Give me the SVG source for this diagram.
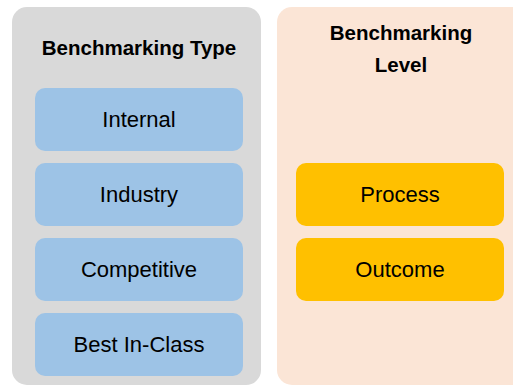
<svg xmlns="http://www.w3.org/2000/svg" width="513" height="387" viewBox="0 0 513 387">
  <style>
    .panel-type { fill: #D9D9D9; }
    .panel-level { fill: #FBE5D6; }
    .type-box { fill: #9DC3E6; }
    .level-box { fill: #FFC000; }
    .title { font-family: "Liberation Sans", Arial, sans-serif; font-size: 20.5px; font-weight: bold; fill: #000; text-anchor: middle; }
    .label { font-family: "Liberation Sans", Arial, sans-serif; font-size: 22px; fill: #000; text-anchor: middle; }
  </style>
  <rect width="513" height="387" fill="#FFFFFF"/>

  <!-- Benchmarking type column -->
  <g id="panel-type">
    <rect class="panel-type" x="12" y="7" width="249" height="378" rx="15"/>
    <text class="title" x="139" y="55">Benchmarking Type</text>
  </g>
  <g id="type-internal">
    <rect class="type-box" x="35" y="88" width="208" height="63" rx="10"/>
    <text class="label" x="139" y="127">Internal</text>
  </g>
  <g id="type-industry">
    <rect class="type-box" x="35" y="163" width="208" height="63" rx="10"/>
    <text class="label" x="139" y="202">Industry</text>
  </g>
  <g id="type-competitive">
    <rect class="type-box" x="35" y="238" width="208" height="63" rx="10"/>
    <text class="label" x="139" y="277">Competitive</text>
  </g>
  <g id="type-best-in-class">
    <rect class="type-box" x="35" y="313" width="208" height="63" rx="10"/>
    <text class="label" x="139" y="352">Best In-Class</text>
  </g>

  <!-- Benchmarking level column -->
  <g id="panel-level">
    <rect class="panel-level" x="277" y="7" width="250" height="378" rx="15"/>
    <text class="title" x="401" y="40">Benchmarking</text>
    <text class="title" x="401" y="72">Level</text>
  </g>
  <g id="level-process">
    <rect class="level-box" x="296" y="163" width="208" height="63" rx="10"/>
    <text class="label" x="400" y="202">Process</text>
  </g>
  <g id="level-outcome">
    <rect class="level-box" x="296" y="238" width="208" height="63" rx="10"/>
    <text class="label" x="400" y="277">Outcome</text>
  </g>

  <g id="connectors"/>
</svg>
